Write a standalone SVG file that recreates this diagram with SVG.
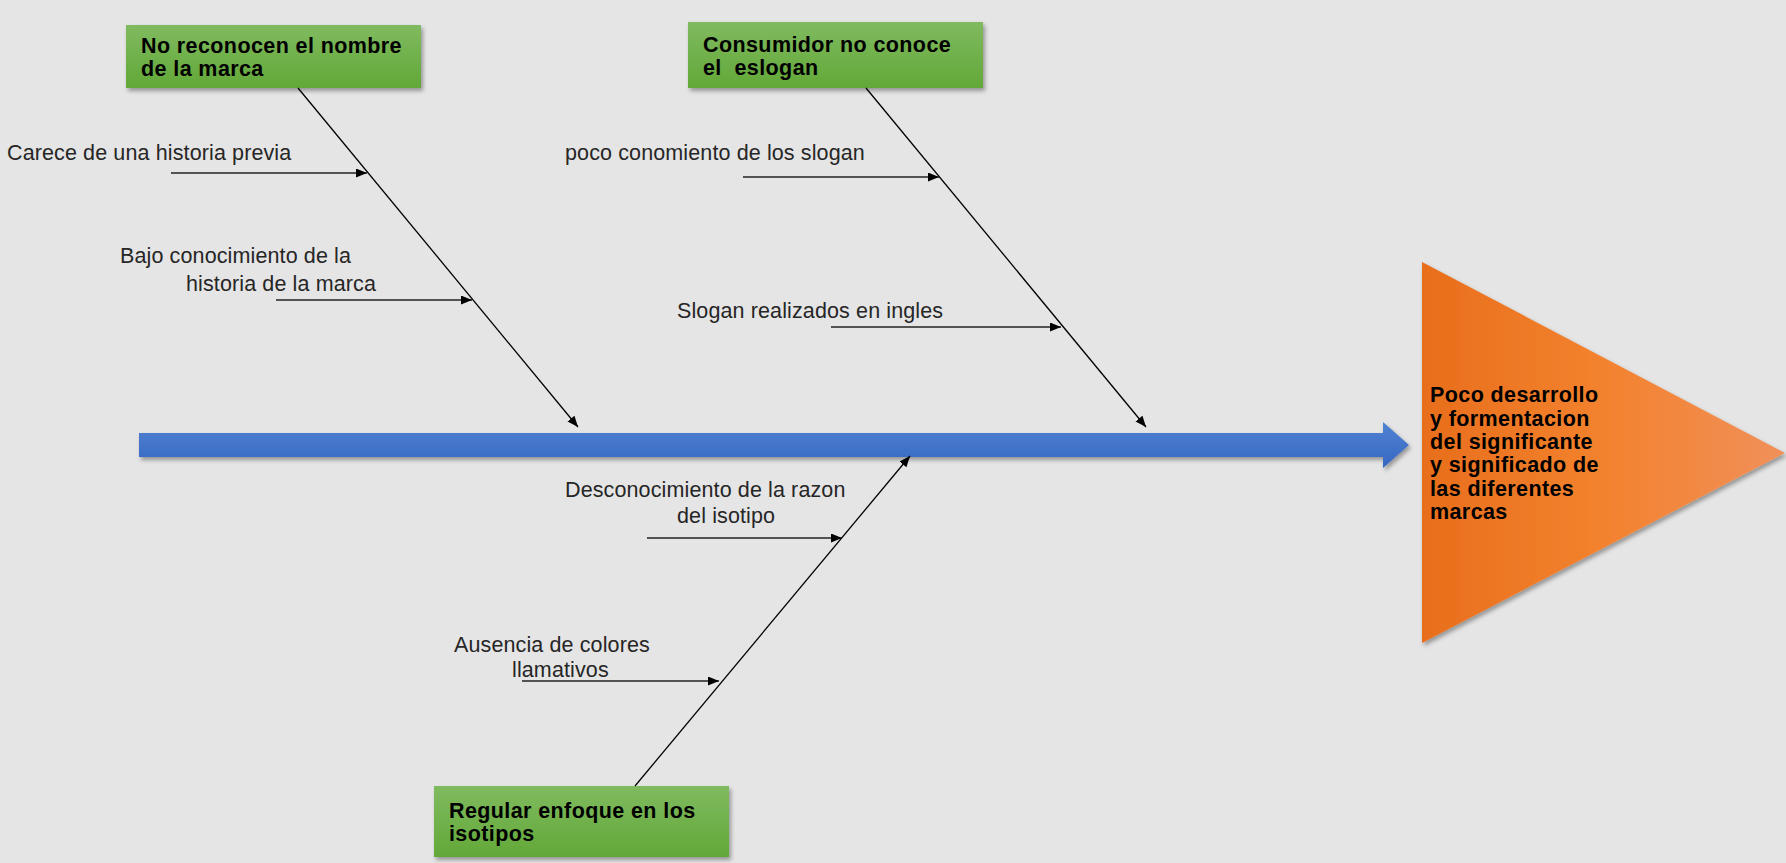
<svg xmlns="http://www.w3.org/2000/svg" width="1786" height="863" viewBox="0 0 1786 863">
<style>
.lbl{font-family:"Liberation Sans",Arial,sans-serif;font-size:21.5px;letter-spacing:0.12px;fill:#262626}
.bold{font-family:"Liberation Sans",Arial,sans-serif;font-size:21.5px;letter-spacing:0.4px;font-weight:bold;fill:#000}
.bone{stroke:#000;stroke-width:1.3;fill:none;marker-end:url(#ah)}
.sub{stroke:#222;stroke-width:1.5;fill:none;marker-end:url(#ah)}
.box{fill:url(#gg);filter:url(#sh)}
</style>
<defs>
<linearGradient id="gg" x1="0" y1="0" x2="0" y2="1">
<stop offset="0" stop-color="#80BA60"/>
<stop offset="1" stop-color="#62A838"/>
</linearGradient>
<linearGradient id="bg" x1="0" y1="0" x2="0" y2="1">
<stop offset="0" stop-color="#5082D2"/>
<stop offset="1" stop-color="#3667C2"/>
</linearGradient>
<linearGradient id="og" x1="0" y1="0" x2="1" y2="0">
<stop offset="0" stop-color="#E86E1C"/>
<stop offset="0.5" stop-color="#F3822E"/>
<stop offset="1" stop-color="#F0905A"/>
</linearGradient>
<filter id="sh" x="-10%" y="-10%" width="120%" height="130%">
<feDropShadow dx="2" dy="3" stdDeviation="2" flood-color="#000" flood-opacity="0.35"/>
</filter>
<marker id="ah" markerUnits="userSpaceOnUse" markerWidth="12" markerHeight="10" refX="11" refY="4.5" orient="auto">
<path d="M0,0 L11,4.5 L0,9 z" fill="#000"/>
</marker>
</defs>
<rect x="0" y="0" width="1786" height="863" fill="#E5E5E5"/>

<g id="spine">
<path d="M139,433 H1383 V422 L1409,445 L1383,468 V457 H139 Z" fill="url(#bg)" filter="url(#sh)"/>
</g>

<g id="effect">
<polygon points="1422,262 1785,453 1422,643" fill="url(#og)" filter="url(#sh)"/>
<text class="bold"><tspan x="1430" y="402">Poco desarrollo</tspan><tspan x="1430" y="425.5">y formentacion</tspan><tspan x="1430" y="449">del significante</tspan><tspan x="1430" y="472">y significado de</tspan><tspan x="1430" y="495.5">las diferentes</tspan><tspan x="1430" y="518.5">marcas</tspan></text>
</g>

<g id="cause1">
<rect class="box" x="126" y="25" width="295" height="63"/>
<text class="bold"><tspan x="141" y="53">No reconocen el nombre</tspan><tspan x="141" y="76">de la marca</tspan></text>
</g>

<g id="cause2">
<rect class="box" x="688" y="22" width="295" height="66"/>
<text class="bold" style="white-space:pre"><tspan x="703" y="52">Consumidor no conoce</tspan><tspan x="703" y="75">el  eslogan</tspan></text>
</g>

<g id="cause3">
<rect class="box" x="434" y="786" width="295" height="71"/>
<text class="bold"><tspan x="449" y="818">Regular enfoque en los</tspan><tspan x="449" y="841">isotipos</tspan></text>
</g>

<g id="sub-labels">
<text class="lbl" x="7" y="160">Carece de una historia previa</text>
<text class="lbl"><tspan x="120" y="263">Bajo conocimiento de la</tspan><tspan x="186" y="291">historia de la marca</tspan></text>
<text class="lbl" x="565" y="160">poco conomiento de los slogan</text>
<text class="lbl" x="677" y="318">Slogan realizados en ingles</text>
<text class="lbl"><tspan x="565" y="497">Desconocimiento de la razon</tspan><tspan x="677" y="523">del isotipo</tspan></text>
<text class="lbl"><tspan x="454" y="652">Ausencia de colores</tspan><tspan x="512" y="677">llamativos</tspan></text>
</g>

<g id="connectors">
<line class="bone" x1="298" y1="88" x2="578" y2="427"/>
<line class="bone" x1="866" y1="88" x2="1146" y2="427"/>
<line class="bone" x1="635" y1="786" x2="910" y2="456"/>
<line class="sub" x1="171" y1="173" x2="367" y2="173"/>
<line class="sub" x1="276" y1="300" x2="472" y2="300"/>
<line class="sub" x1="743" y1="177" x2="939" y2="177"/>
<line class="sub" x1="831" y1="327" x2="1061" y2="327"/>
<line class="sub" x1="647" y1="538" x2="842" y2="538"/>
<line class="sub" x1="522" y1="681" x2="719" y2="681"/>
</g>
</svg>
